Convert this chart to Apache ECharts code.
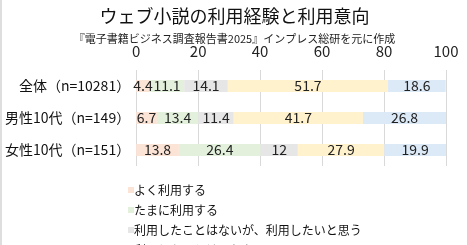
<!DOCTYPE html>
<html>
<head>
<meta charset="utf-8">
<script src="https://cdn.jsdelivr.net/npm/echarts@6/dist/echarts.min.js"></script>
<style>
html,body{margin:0;padding:0;background:#fff;}
#c{width:467px;height:245px;box-sizing:border-box;border-left:2px solid #dedede;}
</style>
</head>
<body>
<div id="c"></div>
<script>
const categories = ['全体（n=10281）', '男性10代（n=149）', '女性10代（n=151）'];
const seriesNames = ['よく利用する', 'たまに利用する', '利用したことはないが、利用したいと思う', '利用したいとは思わない', 'ウェブ小説を知らない'];
const yokuRiyou = [4.4, 6.7, 13.8];
const tamaniRiyou = [11.1, 13.4, 26.4];
const riyouShitai = [14.1, 11.4, 12];
const riyouShitakunai = [51.7, 41.7, 27.9];
const shiranai = [18.6, 26.8, 19.9];
const xTicks = [0, 20, 40, 60, 80, 100];

const colors = ['#fbe3d6', '#e3f1dc', '#e6e6e6', '#fff2cc', '#dce9f7'];
const dataSets = [yokuRiyou, tamaniRiyou, riyouShitai, riyouShitakunai, shiranai];
const font = '"Noto Sans CJK JP", "Noto Sans", sans-serif';

const chart = echarts.init(document.getElementById('c'));
chart.setOption({
  animation: false,
  textStyle: { fontFamily: font },
  title: [
    { text: 'ウェブ小説の利用経験と利用意向', left: 'center', top: 2,
      textStyle: { fontSize: 18, fontWeight: 'normal', color: '#111', fontFamily: font } },
    { text: '『電子書籍ビジネス調査報告書2025』インプレス総研を元に作成', left: 'center', top: 28,
      textStyle: { fontSize: 11, fontWeight: 'normal', color: '#222', fontFamily: font } }
  ],
  legend: {
    orient: 'vertical', left: 126, top: 184, height: 400, padding: 0,
    itemWidth: 6, itemHeight: 6, itemGap: 8,
    icon: 'rect',
    textStyle: { fontSize: 12, color: '#111', fontFamily: font, padding: [0, 0, 0, -5] },
    data: seriesNames
  },
  grid: { left: 133, right: 21, top: 70, bottom: 79, containLabel: false },
  xAxis: {
    type: 'value', position: 'top', min: 0, max: 100, interval: 20,
    axisLine: { show: false }, axisTick: { show: false },
    axisLabel: { fontSize: 15, color: '#222', margin: 11, fontFamily: font,
      formatter: v => xTicks.includes(v) ? String(v) : '' },
    splitLine: { lineStyle: { color: '#d9d9d9', width: 1 } }
  },
  yAxis: {
    type: 'category', inverse: true, data: categories,
    axisLine: { show: false }, axisTick: { show: false },
    axisLabel: { fontSize: 14, color: '#111', margin: 6, fontFamily: font }
  },
  series: dataSets.map((d, i) => ({
    name: seriesNames[i], type: 'bar', stack: 'total', data: d,
    barWidth: 12,
    itemStyle: { color: colors[i] },
    label: { show: true, position: 'inside', fontSize: 14, color: '#222', fontFamily: font }
  }))
});
</script>
</body>
</html>
